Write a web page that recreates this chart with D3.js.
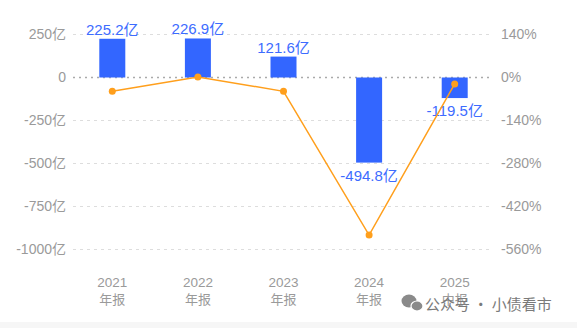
<!DOCTYPE html>
<html>
<head>
<meta charset="utf-8">
<script src="https://cdn.jsdelivr.net/npm/d3@7"></script>
<style>
  body { margin: 0; background: #fff; }
  svg { display: block; font-family: "Noto Sans CJK SC", "Liberation Sans", sans-serif; }
</style>
</head>
<body>
<svg class="chart"></svg>
<script>
// categories and values
var years = ["2021", "2022", "2023", "2024", "2025"];
var periods = ["年报", "年报", "年报", "年报", "中报"];
var amounts = [225.2, 226.9, 121.6, -494.8, -119.5];   // 亿
var growth = [-45, 2, -45, -513, -21];                 // %
var leftTicks = [250, 0, -250, -500, -750, -1000];
var rightTicks = [140, 0, -140, -280, -420, -560];

var ui = {
  width: 577,
  height: 328,
  bar: "#3366ff",
  label: "#3d6cff",
  line: "#ff9f1c",
  axis: "#9a9a9a",
  grid: "#dddddd"
}

var chart = d3.select(".chart")
  .attr("width", ui.width)
  .attr("height", ui.height);

var x = d3.scaleBand()
  .domain(years)
  .range([69.5, 497.5]);

var y = d3.scaleLinear()
  .domain([-1000, 250])
  .range([249.5, 34.5]);

var y2 = d3.scaleLinear()
  .domain([-560, 140])
  .range([249.5, 34.5]);

function cx(i) { return x(years[i]) + x.bandwidth() / 2 }

// grid lines
chart.append("g")
  .selectAll("line")
  .data(leftTicks)
  .enter().append("line")
  .attr("x1", 73)
  .attr("x2", 492)
  .attr("y1", function(d) { return y(d) })
  .attr("y2", function(d) { return y(d) })
  .attr("stroke", function(d) { return d == 0 ? "#aaaaaa" : ui.grid })
  .attr("stroke-width", function(d) { return d == 0 ? 1.3 : 1 })
  .attr("stroke-dasharray", function(d) { return d == 0 ? "2,4" : "3,4" });

// left axis
var leftAxis = chart.append("g")
  .attr("transform", "translate(66,0)")
  .call(d3.axisLeft(y).tickValues(leftTicks).tickSize(0).tickPadding(0)
    .tickFormat(function(d) { return d == 0 ? "0" : d + "亿" }));
leftAxis.select(".domain").remove();
leftAxis.selectAll("text")
  .attr("fill", ui.axis)
  .style("font-size", "14px")
  .style("font-family", "Liberation Sans, sans-serif");
leftAxis.selectAll("text").filter(function(d) { return d != 0 })
  .text(null)
  .each(function(d) {
    var t = d3.select(this);
    t.append("tspan").style("font-family", "Liberation Sans, sans-serif").text(d);
    t.append("tspan").style("font-family", "Noto Sans CJK SC").text("亿");
  });

// right axis
var rightAxis = chart.append("g")
  .attr("transform", "translate(501,0)")
  .call(d3.axisRight(y2).tickValues(rightTicks).tickSize(0).tickPadding(0)
    .tickFormat(function(d) { return d + "%" }));
rightAxis.select(".domain").remove();
rightAxis.selectAll("text")
  .attr("fill", ui.axis)
  .style("font-size", "14px")
  .style("font-family", "Liberation Sans, sans-serif");

// bars
chart.append("g")
  .selectAll("rect")
  .data(amounts)
  .enter().append("rect")
  .attr("x", function(d, i) { return cx(i) - 13 })
  .attr("width", 26)
  .attr("y", function(d) { return y(Math.max(0, d)) })
  .attr("height", function(d) { return Math.abs(y(d) - y(0)) })
  .attr("fill", ui.bar);

// bar labels
chart.append("g")
  .selectAll("text")
  .data(amounts)
  .enter().append("text")
  .attr("x", function(d, i) { return cx(i) })
  .attr("y", function(d) { return d >= 0 ? y(d) - 4 : y(d) + 18 })
  .attr("text-anchor", "middle")
  .attr("fill", ui.label)
  .style("font-size", "15px")
  .each(function(d) {
    var t = d3.select(this);
    t.append("tspan").style("font-family", "Liberation Sans, sans-serif").text(d.toFixed(1));
    t.append("tspan").style("font-family", "Noto Sans CJK SC").text("亿");
  });

// growth line
var line = d3.line()
  .x(function(d, i) { return cx(i) })
  .y(function(d) { return y2(d) });

chart.append("path")
  .datum(growth)
  .attr("d", line)
  .attr("fill", "none")
  .attr("stroke", ui.line)
  .attr("stroke-width", 1.5);

chart.append("g")
  .selectAll("circle")
  .data(growth)
  .enter().append("circle")
  .attr("cx", function(d, i) { return cx(i) })
  .attr("cy", function(d) { return y2(d) })
  .attr("r", 3.5)
  .attr("fill", ui.line);

// x labels, two lines
var xg = chart.append("g");
xg.selectAll(".year")
  .data(years)
  .enter().append("text")
  .attr("class", "year")
  .attr("x", function(d, i) { return cx(i) })
  .attr("y", 286.5)
  .attr("text-anchor", "middle")
  .attr("fill", ui.axis)
  .style("font-size", "13.5px")
  .style("font-family", "Liberation Sans, sans-serif")
  .text(function(d) { return d });
xg.selectAll(".period")
  .data(periods)
  .enter().append("text")
  .attr("class", "period")
  .attr("x", function(d, i) { return cx(i) })
  .attr("y", 304)
  .attr("text-anchor", "middle")
  .attr("fill", ui.axis)
  .style("font-size", "13px")
  .style("font-family", "Noto Sans CJK SC")
  .text(function(d) { return d });

// watermark
var wm = chart.append("g").attr("transform", "translate(400,303)");
wm.append("ellipse").attr("cx", 9).attr("cy", -2).attr("rx", 7.5).attr("ry", 6.5).attr("fill", "#8a8a8a");
wm.append("ellipse").attr("cx", 17).attr("cy", 3).attr("rx", 6).attr("ry", 5).attr("fill", "#8a8a8a").attr("stroke", "#fff").attr("stroke-width", 1.2);
wm.append("text")
  .attr("x", 25)
  .attr("y", 7)
  .attr("fill", "#7a7a7a")
  .style("font-size", "15px")
  .style("font-family", "Noto Sans CJK SC")
  .text("公众号 · 小债看市");

// faint strip at the bottom
chart.append("rect")
  .attr("x", 0).attr("y", 322).attr("width", ui.width).attr("height", 6)
  .attr("fill", "#f6f6f6");
</script>
</body>
</html>
